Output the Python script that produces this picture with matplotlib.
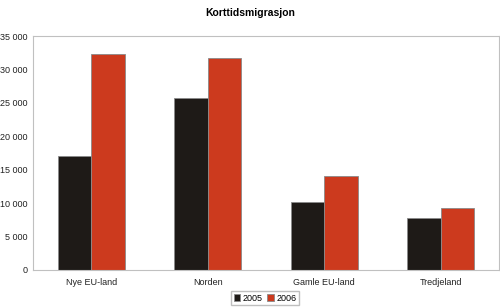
import matplotlib

matplotlib.use("Agg")
import matplotlib.pyplot as plt
import numpy as np

categories = ["Nye EU-land", "Norden", "Gamle EU-land", "Tredjeland"]
series_names = ["2005", "2006"]
values_2005 = [17100, 25700, 10100, 7700]
values_2006 = [32300, 31700, 14000, 9200]
yticks = [0, 5000, 10000, 15000, 20000, 25000, 30000, 35000]
ytick_labels = ["0", "5 000", "10 000", "15 000", "20 000", "25 000", "30 000", "35 000"]

plt.rcParams["font.family"] = ["Liberation Sans", "DejaVu Sans"]

fig = plt.figure(figsize=(5.0, 3.08), dpi=100)
ax = fig.add_axes([0.066, 0.124, 0.932, 0.759])

x = np.arange(len(categories))
w = 0.288
ax.bar(x - w / 2, values_2005, w, color="#1e1a17", edgecolor="#8a8a8a",
       linewidth=0.6, label=series_names[0])
ax.bar(x + w / 2, values_2006, w, color="#cc3a1e", edgecolor="#8a8a8a",
       linewidth=0.6, label=series_names[1])

ax.set_xlim(-0.5, len(categories) - 0.5)
ax.set_ylim(0, 35000)
ax.set_yticks(yticks)
ax.set_yticklabels(ytick_labels, fontsize=6.5, color="#222222")
ax.set_xticks(x)
ax.set_xticklabels(categories, fontsize=6.5, color="#222222")
ax.tick_params(axis="both", length=0, pad=4)
ax.tick_params(axis="x", pad=6)
for side in ax.spines.values():
    side.set_color("#c0c0c0")
    side.set_linewidth(0.8)

fig.suptitle("Korttidsmigrasjon", fontsize=7.5, fontweight="bold", y=0.975)

fig.legend(loc="lower center", bbox_to_anchor=(0.53, 0.0), ncol=2, fontsize=6.5,
           frameon=True, fancybox=False, edgecolor="#b0b0b0", handlelength=0.7,
           handleheight=0.7, handletextpad=0.3, columnspacing=0.5,
           borderpad=0.3, borderaxespad=0.3)

fig.savefig("out.png", dpi=100)
